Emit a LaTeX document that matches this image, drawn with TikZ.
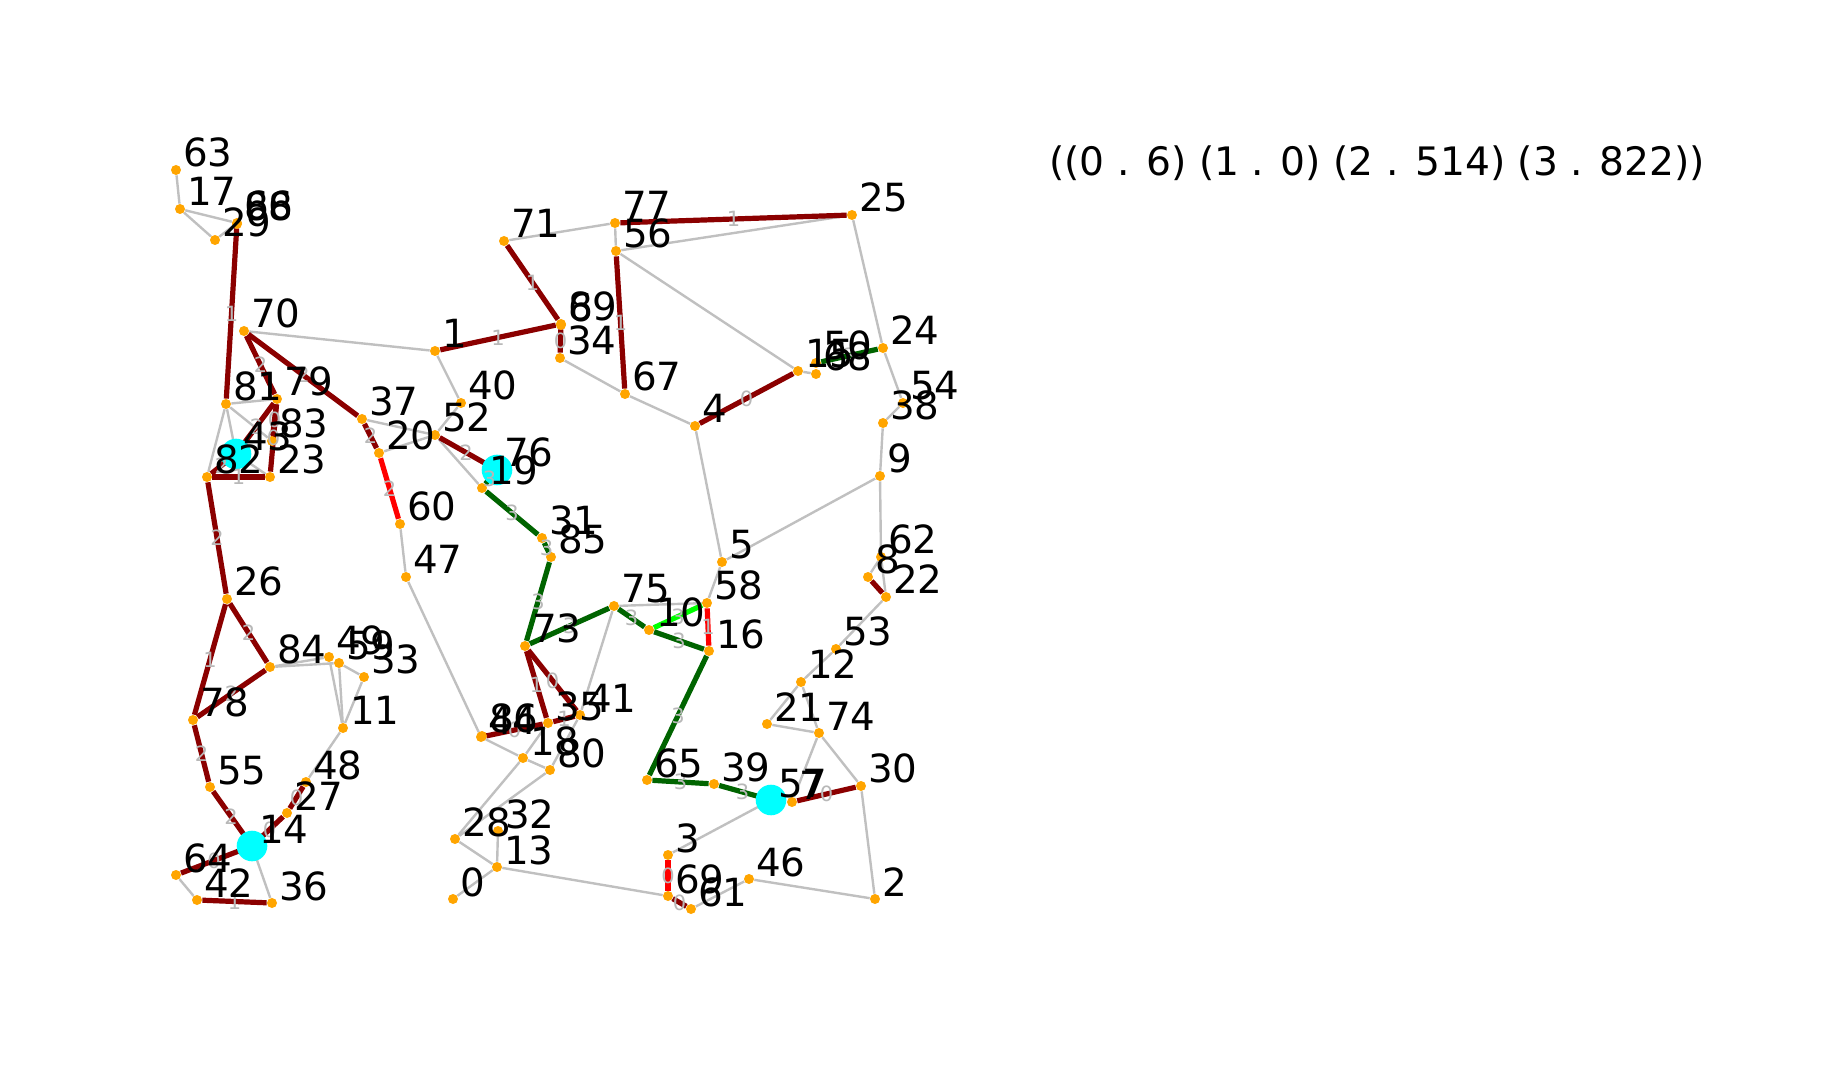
\documentclass[tikz,border=0pt]{standalone}
\usepackage{fontspec}
\setmainfont{DejaVu Sans}
\pgfdeclarelayer{bg}\pgfdeclarelayer{fg}\pgfsetlayers{bg,main,fg}
\definecolor{edgegray}{HTML}{C0C0C0}
\definecolor{dred}{HTML}{8B0000}
\definecolor{dgreen}{HTML}{006400}
\definecolor{lgreen}{HTML}{00FF00}
\definecolor{pred}{HTML}{FF0000}
\definecolor{dotorange}{HTML}{FFA500}
\definecolor{hubcyan}{HTML}{00FFFF}
\definecolor{elabgray}{HTML}{B8B8B8}
\tikzset{
 dot/.style={circle, fill=dotorange, inner sep=0pt, minimum size=5pt},
 hub/.style={circle, fill=hubcyan, inner sep=0pt, minimum size=15.3pt},
 lab/.style={anchor=base west, inner sep=0pt, font=\fontsize{19.4}{22}\selectfont},
 elab/.style={inner sep=0pt, text=elabgray, font=\fontsize{10.5}{12}\selectfont},
 ge/.style={draw=edgegray, line width=1.2pt},
 re/.style={draw=dred, line width=2.6pt},
 rr/.style={draw=pred, line width=2.6pt},
 gg/.style={draw=dgreen, line width=2.6pt},
 lg/.style={draw=lgreen, line width=2.6pt},
}
\newcommand{\nd}[3]{\node[dot] (n#1) at (#2,#3) {};}
\newcommand{\lb}[1]{\node[lab] (l#1) at ([xshift=3.3pt,yshift=1.5pt]n#1.center) {#1};}
\newcommand{\eg}[2]{\begin{pgfonlayer}{bg}\draw[ge] (n#1) -- (n#2);\end{pgfonlayer}}
\newcommand{\ec}[4]{\begin{pgfonlayer}{bg}\draw[#1] (n#2) -- (n#3);\end{pgfonlayer}\begin{pgfonlayer}{fg}\path (n#2) -- node[elab] (e#2x#3) {#4} (n#3);\end{pgfonlayer}}
\newcommand{\en}[3]{\begin{pgfonlayer}{bg}\draw[#1] (n#2) -- (n#3);\end{pgfonlayer}}
\begin{document}
\begin{tikzpicture}[x=0.5pt,y=-0.5pt]
\useasboundingbox (0,0) rectangle (1833,1080);
% nodes
\nd{63}{176}{170}\nd{17}{180}{209}\nd{29}{215}{240}\nd{66}{237}{223}\nd{88}{237}{224}
\nd{70}{244}{331}\nd{1}{435}{351}\nd{81}{226}{404}\nd{79}{277}{399}\nd{83}{272}{441}
\nd{43}{236}{454}\nd{82}{207}{477}\nd{23}{270}{477}\nd{37}{362}{419}\nd{20}{379}{453}
\nd{52}{435}{435}\nd{40}{461}{403}\nd{76}{497}{470}\nd{19}{482}{488}\nd{60}{400}{524}
\nd{47}{406}{577}\nd{26}{227}{599}\nd{31}{542}{538}\nd{85}{551}{557}\nd{71}{504}{241}
\nd{77}{615}{223}\nd{56}{616}{251}\nd{89}{561}{324}\nd{6}{561}{325}\nd{34}{560}{358}
\nd{67}{625}{394}\nd{4}{695}{426}\nd{25}{852}{215}\nd{24}{883}{348}\nd{15}{798}{371}
\nd{50}{816}{363}\nd{68}{816}{374}\nd{54}{903}{403}\nd{38}{883}{423}\nd{9}{880}{476}
\nd{5}{722}{562}\nd{58}{707}{603}\nd{75}{614}{606}\nd{10}{649}{630}\nd{16}{709}{651}
\nd{73}{525}{646}\nd{35}{548}{723}\nd{41}{580}{715}\nd{62}{881}{557}\nd{8}{868}{577}
\nd{22}{886}{597}\nd{53}{836}{649}\nd{12}{801}{682}\nd{21}{767}{724}\nd{74}{819}{733}
\nd{30}{861}{786}\nd{7}{792}{802}\nd{57}{771}{800}\nd{84}{270}{667}\nd{49}{329}{657}
\nd{59}{339}{663}\nd{33}{364}{677}\nd{11}{343}{728}\nd{78}{193}{720}\nd{55}{210}{787}
\nd{48}{306}{782}\nd{27}{287}{813}\nd{14}{252}{846}\nd{64}{176}{875}\nd{42}{197}{900}
\nd{36}{272}{903}\nd{44}{481}{737}\nd{86}{482}{736}\nd{18}{523}{758}\nd{80}{550}{770}
\nd{28}{455}{839}\nd{32}{498}{831}\nd{13}{497}{867}\nd{0}{453}{899}\nd{65}{647}{780}
\nd{39}{714}{784}\nd{3}{668}{855}\nd{69}{668}{896}\nd{61}{691}{909}\nd{46}{749}{879}
\nd{2}{875}{899}
% hubs
\begin{pgfonlayer}{fg}
\node[hub] (h43) at (n43.center) {};
\node[hub] (h76) at (n76.center) {};
\node[hub] (h14) at (n14.center) {};
\node[hub] (h57) at (n57.center) {};
\end{pgfonlayer}
% gray edges
\eg{63}{17}\eg{17}{29}\eg{17}{66}\eg{29}{66}\eg{70}{1}\eg{81}{79}\eg{81}{82}\eg{81}{43}
\eg{81}{83}\eg{43}{23}\eg{37}{52}\eg{20}{52}\eg{52}{19}\eg{52}{40}\eg{40}{1}\eg{60}{47}
\eg{47}{44}\eg{71}{77}\eg{77}{56}\eg{56}{25}\eg{56}{15}\eg{34}{67}\eg{67}{4}\eg{4}{5}
\eg{25}{24}\eg{24}{54}\eg{54}{38}\eg{38}{9}\eg{9}{5}\eg{9}{62}\eg{5}{58}\eg{75}{58}
\eg{75}{41}\eg{62}{8}\eg{62}{22}\eg{22}{53}\eg{53}{12}\eg{12}{21}\eg{12}{74}\eg{21}{74}
\eg{74}{7}\eg{74}{30}\eg{30}{2}\eg{46}{2}\eg{61}{46}\eg{3}{57}\eg{13}{69}\eg{13}{0}
\eg{13}{32}\eg{28}{13}\eg{28}{18}\eg{28}{80}\eg{18}{80}\eg{44}{18}\eg{18}{35}\eg{80}{41}
\eg{84}{49}\eg{84}{59}\eg{49}{11}\eg{59}{11}\eg{59}{33}\eg{33}{11}\eg{11}{48}\eg{14}{36}
\eg{64}{42}\eg{15}{68}
% dark red edges
\ec{re}{66}{81}{1}\ec{re}{70}{79}{2}\ec{re}{70}{37}{2}\ec{re}{79}{43}{2}\ec{re}{79}{83}{0}
\ec{re}{79}{23}{0}\ec{re}{82}{23}{1}\ec{re}{82}{43}{2}\ec{re}{82}{26}{2}\ec{re}{37}{20}{2}
\ec{re}{52}{76}{2}\ec{re}{71}{89}{1}\ec{re}{1}{89}{1}\ec{re}{89}{34}{0}\ec{re}{56}{67}{1}
\ec{re}{77}{25}{1}\ec{re}{4}{15}{0}\en{re}{8}{22}\ec{re}{73}{35}{1}\ec{re}{73}{41}{0}
\ec{re}{35}{41}{1}\ec{re}{44}{35}{0}\ec{re}{26}{78}{1}\ec{re}{26}{84}{2}\ec{re}{84}{78}{2}
\ec{re}{78}{55}{2}\ec{re}{55}{14}{2}\ec{re}{14}{64}{0}\ec{re}{42}{36}{1}\ec{re}{48}{27}{0}
\ec{re}{27}{14}{0}\ec{re}{7}{30}{0}\ec{re}{69}{61}{0}
% red edges
\ec{rr}{20}{60}{2}\ec{rr}{58}{16}{1}\ec{rr}{69}{3}{0}
% green edges
\ec{gg}{19}{31}{3}\ec{gg}{31}{85}{3}\ec{gg}{85}{73}{3}\ec{gg}{73}{75}{3}\ec{gg}{75}{10}{3}
\ec{gg}{10}{16}{3}\ec{gg}{16}{65}{3}\ec{gg}{65}{39}{3}\ec{gg}{39}{57}{3}\ec{gg}{76}{19}{3}
\ec{gg}{50}{24}{3}
\ec{lg}{10}{58}{3}
% labels
\begin{pgfonlayer}{fg}
\lb{63}\lb{17}\lb{29}\lb{66}\lb{88}\lb{70}\lb{1}\lb{81}\lb{79}\lb{83}\lb{43}\lb{82}\lb{23}
\lb{37}\lb{20}\lb{52}\lb{40}\lb{76}\lb{19}\lb{60}\lb{47}\lb{26}\lb{31}\lb{85}\lb{71}\lb{77}
\lb{56}\lb{89}\lb{6}\lb{34}\lb{67}\lb{4}\lb{25}\lb{24}\lb{15}\lb{50}\lb{68}\lb{54}\lb{38}
\lb{9}\lb{5}\lb{58}\lb{75}\lb{10}\lb{16}\lb{73}\lb{35}\lb{41}\lb{62}\lb{8}\lb{22}\lb{53}
\lb{12}\lb{21}\lb{74}\lb{30}\lb{7}\lb{57}\lb{84}\lb{49}\lb{59}\lb{33}\lb{11}\lb{78}\lb{55}
\lb{48}\lb{27}\lb{14}\lb{64}\lb{42}\lb{36}\lb{44}\lb{86}\lb{18}\lb{80}\lb{28}\lb{32}\lb{13}
\lb{0}\lb{65}\lb{39}\lb{3}\lb{69}\lb{61}\lb{46}\lb{2}
\end{pgfonlayer}
\node[anchor=base west, inner sep=0pt, font=\fontsize{19.6}{24}\selectfont] (title) at (1049,176) {((0 . 6) (1 . 0) (2 . 514) (3 . 822))};
\end{tikzpicture}
\end{document}
